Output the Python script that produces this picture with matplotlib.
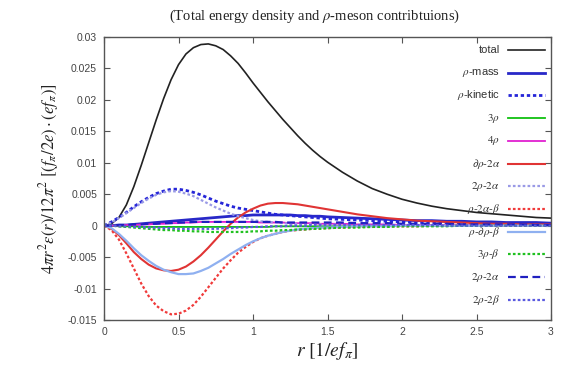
import matplotlib
matplotlib.use("Agg")
import matplotlib.pyplot as plt

plt.rcParams['mathtext.fontset'] = 'stix'

r = [0.0, 0.05, 0.1, 0.15, 0.2, 0.25, 0.3, 0.35, 0.4, 0.45, 0.5, 0.55, 0.6, 0.65, 0.7, 0.75,
     0.8, 0.85, 0.9, 0.95, 1.0, 1.05, 1.1, 1.15, 1.2, 1.25, 1.3, 1.35, 1.4, 1.45, 1.5,
     1.6, 1.7, 1.8, 1.9, 2.0, 2.1, 2.2, 2.3, 2.4, 2.5, 2.6, 2.7, 2.8, 2.9, 3.0]

total = [0.0, 0.0003, 0.0013, 0.0033, 0.0062, 0.0096, 0.0132, 0.0168, 0.0202, 0.0232,
         0.0256, 0.0273, 0.0283, 0.0288, 0.0289, 0.0286, 0.0280, 0.0270, 0.0258, 0.0243,
         0.0227, 0.0212, 0.0197, 0.0183, 0.0169, 0.0156, 0.0143, 0.0131, 0.0120, 0.0110, 0.0101,
         0.0085, 0.0071, 0.0059, 0.0050, 0.0042, 0.0036, 0.0031, 0.0027, 0.0024, 0.0021,
         0.0019, 0.0017, 0.0015, 0.0013, 0.0012]
rho_mass = [0.0, 0.0, 0.0001, 0.0001, 0.0002, 0.0003, 0.0004, 0.0005, 0.0006, 0.0007,
            0.0008, 0.0009, 0.0010, 0.0011, 0.0012, 0.0013, 0.0014, 0.0015, 0.0016, 0.0016,
            0.0017, 0.0017, 0.0017, 0.0017, 0.0017, 0.0017, 0.0016, 0.0016, 0.0015, 0.0015, 0.0014,
            0.0013, 0.0012, 0.0011, 0.0010, 0.0009, 0.0008, 0.0008, 0.0007, 0.0007, 0.0006,
            0.0006, 0.0005, 0.0005, 0.0005, 0.0004]
rho_kin = [0.0, 0.0006, 0.0013, 0.0021, 0.0030, 0.0038, 0.0045, 0.0051, 0.0055, 0.0058,
           0.0058, 0.0056, 0.0053, 0.0049, 0.0044, 0.0039, 0.0035, 0.0031, 0.0028, 0.0026,
           0.0024, 0.0022, 0.0020, 0.0018, 0.0017, 0.0016, 0.0015, 0.0014, 0.0013, 0.0012, 0.0011,
           0.0010, 0.0009, 0.0008, 0.0007, 0.0006, 0.0005, 0.0005, 0.0004, 0.0004, 0.0003,
           0.0003, 0.0003, 0.0002, 0.0002, 0.0002]
three_rho = [0.0, 0.0, -0.0001, -0.0001, -0.0001, -0.0002, -0.0002, -0.0002, -0.0002, -0.0002,
             -0.0002, -0.0002, -0.0002, -0.0002, -0.0002, -0.0002, -0.0002, -0.0002, -0.0002, -0.0002,
             -0.0002, -0.0002, -0.0002, -0.0001, -0.0001, -0.0001, -0.0001, -0.0001, -0.0001, -0.0001, -0.0001,
             -0.0001, -0.0001, 0.0, 0.0, 0.0, 0.0, 0.0, 0.0, 0.0, 0.0,
             0.0, 0.0, 0.0, 0.0, 0.0]
four_rho = [0.0, 0.0, 0.0, 0.0001, 0.0001, 0.0002, 0.0002, 0.0003, 0.0003, 0.0004,
            0.0004, 0.0005, 0.0005, 0.0006, 0.0006, 0.0006, 0.0006, 0.0006, 0.0006, 0.0006,
            0.0006, 0.0005, 0.0005, 0.0005, 0.0005, 0.0004, 0.0004, 0.0004, 0.0004, 0.0003, 0.0003,
            0.0003, 0.0002, 0.0002, 0.0002, 0.0001, 0.0001, 0.0001, 0.0001, 0.0001, 0.0001,
            0.0, 0.0, 0.0, 0.0, 0.0]
drho_2a = [0.0, -0.0005, -0.0015, -0.0028, -0.0042, -0.0053, -0.0062, -0.0068, -0.0071, -0.0072,
           -0.0070, -0.0065, -0.0057, -0.0047, -0.0035, -0.0022, -0.0009, 0.0003, 0.0013, 0.0021,
           0.0027, 0.0032, 0.0035, 0.0036, 0.0036, 0.0035, 0.0034, 0.0032, 0.0030, 0.0028, 0.0026,
           0.0022, 0.0018, 0.0015, 0.0012, 0.0010, 0.0008, 0.0007, 0.0006, 0.0005, 0.0004,
           0.0003, 0.0003, 0.0002, 0.0002, 0.0002]
two_rho_2a = [0.0, 0.0005, 0.0012, 0.0020, 0.0028, 0.0036, 0.0043, 0.0049, 0.0053, 0.0055,
              0.0054, 0.0051, 0.0047, 0.0041, 0.0035, 0.0029, 0.0024, 0.0019, 0.0015, 0.0012,
              0.0009, 0.0007, 0.0006, 0.0005, 0.0004, 0.0003, 0.0003, 0.0002, 0.0002, 0.0002, 0.0002,
              0.0001, 0.0001, 0.0001, 0.0001, 0.0, 0.0, 0.0, 0.0, 0.0, 0.0,
              0.0, 0.0, 0.0, 0.0, 0.0]
rho_2a_b = [0.0, -0.0007, -0.0022, -0.0044, -0.0068, -0.0092, -0.0112, -0.0127, -0.0136, -0.0141,
            -0.0140, -0.0135, -0.0126, -0.0113, -0.0098, -0.0083, -0.0068, -0.0055, -0.0043, -0.0034,
            -0.0026, -0.0020, -0.0016, -0.0013, -0.0010, -0.0008, -0.0007, -0.0006, -0.0005, -0.0004, -0.0004,
            -0.0003, -0.0002, -0.0002, -0.0001, -0.0001, -0.0001, 0.0, 0.0, 0.0, 0.0,
            0.0, 0.0, 0.0, 0.0, 0.0]
rho_drho_b = [0.0, -0.0004, -0.0013, -0.0024, -0.0036, -0.0047, -0.0056, -0.0064, -0.0070, -0.0074,
              -0.0077, -0.0077, -0.0076, -0.0072, -0.0067, -0.0060, -0.0053, -0.0045, -0.0038, -0.0031,
              -0.0025, -0.0020, -0.0016, -0.0013, -0.0010, -0.0008, -0.0006, -0.0005, -0.0004, -0.0003, -0.0003,
              -0.0002, -0.0001, -0.0001, -0.0001, 0.0, 0.0, 0.0, 0.0, 0.0, 0.0,
              0.0, 0.0, 0.0, 0.0, 0.0]
three_rho_b = [0.0, 0.0, -0.0001, -0.0002, -0.0003, -0.0004, -0.0005, -0.0006, -0.0007, -0.0007,
               -0.0008, -0.0008, -0.0009, -0.0009, -0.0010, -0.0010, -0.0010, -0.0010, -0.0010, -0.0010,
               -0.0009, -0.0009, -0.0008, -0.0008, -0.0007, -0.0007, -0.0006, -0.0006, -0.0005, -0.0005, -0.0004,
               -0.0003, -0.0003, -0.0002, -0.0002, -0.0001, -0.0001, -0.0001, -0.0001, 0.0, 0.0,
               0.0, 0.0, 0.0, 0.0, 0.0]
two_rho_2a_b = [0.0, 0.0, 0.0001, 0.0001, 0.0002, 0.0002, 0.0003, 0.0003, 0.0004, 0.0004,
                0.0005, 0.0005, 0.0006, 0.0006, 0.0006, 0.0006, 0.0006, 0.0006, 0.0006, 0.0006,
                0.0006, 0.0006, 0.0006, 0.0006, 0.0005, 0.0005, 0.0005, 0.0005, 0.0005, 0.0005, 0.0005,
                0.0005, 0.0004, 0.0004, 0.0004, 0.0003, 0.0003, 0.0003, 0.0003, 0.0002, 0.0002,
                0.0002, 0.0002, 0.0002, 0.0001, 0.0001]
two_rho_2b = [0.0, 0.0, -0.0001, -0.0001, -0.0002, -0.0002, -0.0003, -0.0003, -0.0004, -0.0004,
              -0.0005, -0.0005, -0.0005, -0.0005, -0.0005, -0.0005, -0.0004, -0.0004, -0.0003, -0.0003,
              -0.0002, -0.0002, -0.0001, -0.0001, -0.0001, 0.0, 0.0, 0.0, 0.0001, 0.0001, 0.0001,
              0.0001, 0.0001, 0.0001, 0.0001, 0.0001, 0.0001, 0.0001, 0.0, 0.0, 0.0,
              0.0, 0.0, 0.0, 0.0, 0.0]

series = [
    ("total", total, dict(color="#222222", lw=1.2, ls="-")),
    (r"$\rho$-mass", rho_mass, dict(color="#2828c8", lw=2.0, ls="-")),
    (r"$\rho$-kinetic", rho_kin, dict(color="#2626d8", lw=2.0, ls=(0, (1.2, 1.0)))),
    (r"$3\rho$", three_rho, dict(color="#10c010", lw=1.3, ls="-")),
    (r"$4\rho$", four_rho, dict(color="#e020d0", lw=1.3, ls="-")),
    (r"$\partial\rho$-$2\alpha$", drho_2a, dict(color="#e03434", lw=1.5, ls="-")),
    (r"$2\rho$-$2\alpha$", two_rho_2a, dict(color="#9a9ae6", lw=1.6, ls=(0, (1.2, 1.0)))),
    (r"$\rho$-$2\alpha$-$\beta$", rho_2a_b, dict(color="#f03a3a", lw=1.6, ls=(0, (1.2, 1.0)))),
    (r"$\rho$-$\partial\rho$-$\beta$", rho_drho_b, dict(color="#8fb0f0", lw=1.6, ls="-")),
    (r"$3\rho$-$\beta$", three_rho_b, dict(color="#20c020", lw=1.6, ls=(0, (1.2, 1.0)))),
    (r"$2\rho$-$2\alpha$", two_rho_2a_b, dict(color="#2020c0", lw=1.6, ls=(0, (3.5, 2.0)))),
    (r"$2\rho$-$2\beta$", two_rho_2b, dict(color="#5a5ae0", lw=1.6, ls=(0, (1.2, 1.0)))),
]

fig = plt.figure(figsize=(5.67, 3.69), dpi=100)
ax = fig.add_axes([104/567, 1-320/369, 447/567, 283/369])

for name, vals, st in series:
    ax.plot(r[:len(vals)], vals, **st)

ax.set_xlim(0, 3)
ax.set_ylim(-0.015, 0.03)
ax.set_xticks([0, 0.5, 1, 1.5, 2, 2.5, 3])
ax.set_xticklabels(["0", "0.5", "1", "1.5", "2", "2.5", "3"])
ax.set_yticks([-0.015, -0.01, -0.005, 0, 0.005, 0.01, 0.015, 0.02, 0.025, 0.03])
ax.set_yticklabels(["-0.015", "-0.01", "-0.005", "0", "0.005", "0.01", "0.015", "0.02", "0.025", "0.03"])
ax.tick_params(direction="in", top=True, right=True, length=4, width=0.8,
               labelsize=7.5, labelcolor="#444444", colors="#555555", pad=5)
for lab in ax.get_xticklabels() + ax.get_yticklabels():
    lab.set_fontfamily("Liberation Sans")
for sp in ax.spines.values():
    sp.set_color("#555555")
    sp.set_linewidth(1.0)

# legend drawn in gnuplot style: label right-aligned, sample on the right
y0 = (320 - 50) / 283
dy = 22.7 / 283
for i, (name, vals, st) in enumerate(series):
    yy = y0 - i * dy
    ax.text(0.886, yy, name, transform=ax.transAxes, ha="right", va="center",
            fontsize=8, color="#333333", family="Liberation Sans")
    ax.plot([0.904, 0.987], [yy, yy], transform=ax.transAxes, **st)

fig.text(0.555, 1 - 16/369, r"(Total energy density and $\rho$-meson contribtuions)",
         ha="center", va="center", fontsize=10.5, family="Liberation Serif", color="#222222")
ax.set_xlabel(r"$r\ [1/ef_\pi]$", fontsize=14, color="#222222", labelpad=2)
ax.set_ylabel(r"$4\pi r^2\varepsilon(r)/12\pi^2\ [(f_\pi/2e)\cdot(ef_\pi)]$",
              fontsize=12, color="#222222", labelpad=5)

fig.savefig("out.png", dpi=100)
